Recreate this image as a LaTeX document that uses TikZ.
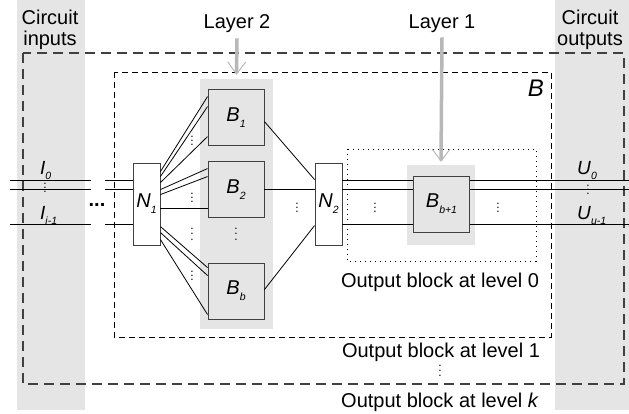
\documentclass[tikz,border=0pt]{standalone}
\usepackage{fontspec}
\setmainfont{Liberation Sans}
\usepackage{tikz}
\usetikzlibrary{positioning, arrows.meta}

\definecolor{bandgray}{gray}{0.9}
\definecolor{edgegray}{gray}{0.25}
\definecolor{arrowgray}{gray}{0.72}

\newcommand{\lbl}[2]{\textit{#1}\raisebox{-0.3em}{\fontsize{10.5}{10.5}\selectfont\itshape #2}}
\newcommand{\vdts}[1][4pt]{\vbox{\baselineskip#1\lineskiplimit0pt\hbox{.}\hbox{.}\hbox{.}}}

\begin{document}
\begin{tikzpicture}[x=1pt, y=-1pt, on grid,
    block/.style={draw=edgegray, fill=bandgray, line width=0.9pt, minimum width=56pt, minimum height=56pt, inner sep=0pt, font=\fontsize{20}{20}\selectfont},
    net/.style={draw=edgegray, fill=white, line width=0.9pt, minimum width=27pt, minimum height=82pt, inner sep=0pt, font=\fontsize{20}{20}\selectfont},
    band/.style={fill=bandgray, draw=none, inner sep=0pt},
    caption/.style={font=\fontsize{20}{21}\selectfont, align=center, inner sep=0pt},
    port/.style={font=\fontsize{19}{19}\selectfont, inner sep=0pt},
    dts/.style={inner sep=0pt, font=\fontsize{12}{12}\selectfont},
    wire/.style={line width=0.8pt},
    levelk/.style={draw=edgegray, line width=1.1pt, dash pattern=on 10pt off 6pt},
    level1/.style={draw=black, line width=1pt, dash pattern=on 6pt off 4pt},
    level0/.style={draw=black, line width=1pt, dash pattern=on 1.2pt off 3.8pt},
    layer/.style={draw=arrowgray, line width=3.5pt, -{Straight Barb[length=12pt, width=18pt, line width=1pt]}}
]
\useasboundingbox (0,0) rectangle (629,413);

% shaded columns
\fill[bandgray] (17,0) rectangle (85,410);
\fill[bandgray] (555,0) rectangle (629,410);
\node[band, minimum width=73pt, minimum height=250pt] (col2) at (236.5,204) {};
\node[band, minimum width=68pt, minimum height=80pt] (col1) at (441,205) {};

% output blocks
\draw[levelk] (23,53) rectangle (624,384);
\draw[level1] (114,72) rectangle (551,337);
\draw[level0] (347,149) rectangle (536,261);

% blocks
\node[net] (n1) at (146.5,204) {\lbl{N}{1}};
\node[block] (b1) at (236,117.5) {\lbl{B}{1}};
\node[block, below=72pt of b1] (b2) {\lbl{B}{2}};
\node[block, below=101.5pt of b2] (bb) {\lbl{B}{b}};
\node[net, right=182pt of n1] (n2) {\lbl{N}{2}};
\node[block, right=113pt of n2] (bn) {\lbl{B}{b+1}};

% wire rows
\coordinate (r0) at (0,180);
\coordinate (r1) at (0,189.5);
\coordinate (r2) at (0,224.5);
\coordinate (ina) at (10,0);
\coordinate (inb) at (91,0);
\coordinate (inc) at (105,0);
\coordinate (outa) at (629,0);

\foreach \r in {r0,r1,r2}{
    \draw[wire] (ina |- \r) -- (inb |- \r);
    \draw[wire] (inc |- \r) -- (n1.west |- \r);
    \draw[wire] (n2.east |- \r) -- (bn.west |- \r);
    \draw[wire] (bn.east |- \r) -- (outa |- \r);
}

% fan out of N1
\foreach \a/\b in {9pt/7.5pt, 14pt/17.5pt, 20pt/47.5pt}
    \draw[wire] ([yshift=-\a]n1.north east) -- ([yshift=-\b]b1.north west);
\foreach \a/\b in {27pt/7.5pt, 32pt/15.5pt, 46pt/47.5pt}
    \draw[wire] ([yshift=-\a]n1.north east) -- ([yshift=-\b]b2.north west);
\foreach \a/\b in {64pt/5pt, 70pt/13pt, 77pt/52pt}
    \draw[wire] ([yshift=-\a]n1.north east) -- ([yshift=-\b]bb.north west);

% into N2
\draw[wire] ([yshift=-32.5pt]b1.north east) -- ([yshift=-17pt]n2.north west);
\draw[wire] (b2.east) -- (n2.west |- b2.east);
\draw[wire] ([yshift=-27pt]bb.north east) -- ([yshift=-63pt]n2.north west);

% dots
\foreach \p [count=\i] in {(192,141), (192,198), (192,276), (297,208), (375,208), (498,208), (45,188), (588,190)}
    \node[dts] (dt\i) at \p {\vdts};
\node[dts] (dt9) at (192,234) {\vdts[5.5pt]};
\node[dts] (dt10) at (236,234) {\vdts[5.5pt]};
\node[dts] (dt11) at (440,371) {\vdts[5pt]};
\node[inner sep=0pt, font=\fontsize{20}{20}\bfseries\selectfont] (hd) at (97,205) {...};

% texts
\node[caption, anchor=north] (cin) at (50,10) {Circuit\\inputs};
\node[caption, anchor=north] (cout) at (590,10) {Circuit\\outputs};
\node[caption, anchor=base] (lay2) at (237,28) {Layer 2};
\node[caption, anchor=base] (lay1) at (442,28) {Layer 1};
\node[caption, anchor=base] (lvl0) at (440,287) {Output block at level 0};
\node[caption, anchor=base] (lvl1) at (441,357) {Output block at level 1};
\node[caption, anchor=base] (lvlk) at (440,407) {Output block at level \textit{k}};
\node[inner sep=0pt, anchor=base east, font=\fontsize{24}{24}\itshape\selectfont] (blab) at (544,96) {B};

\node[port, anchor=base west] (i0) at (40,174) {\lbl{I}{0}};
\node[port, anchor=base west] (i1) at (40,219) {\lbl{I}{i-1}};
\node[port, anchor=base west] (u0) at (577,174) {\lbl{U}{0}};
\node[port, anchor=base west] (u1) at (577,219) {\lbl{U}{u-1}};

% layer arrows
\draw[layer] ([yshift=-6pt]lay2.south) -- ([yshift=4pt]col2.north);
\draw[layer] ([yshift=-5pt]lay1.south) -- ([yshift=3pt]col1.north);

\end{tikzpicture}
\end{document}
